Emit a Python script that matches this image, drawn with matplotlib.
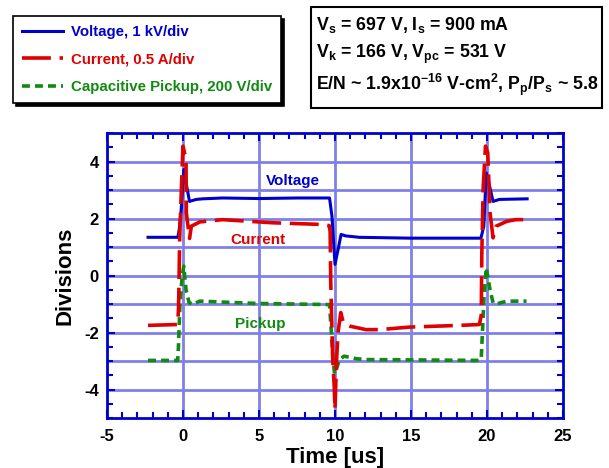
import matplotlib
matplotlib.use("Agg")
import matplotlib.pyplot as plt
from matplotlib.patches import Rectangle
from matplotlib.ticker import MultipleLocator

plt.rcParams['font.family'] = ['Liberation Sans', 'DejaVu Sans']
plt.rcParams['font.weight'] = 'bold'
plt.rcParams['axes.unicode_minus'] = False
plt.rcParams['mathtext.fontset'] = 'custom'
plt.rcParams['mathtext.rm'] = 'Liberation Sans:bold'
plt.rcParams['mathtext.bf'] = 'Liberation Sans:bold'
plt.rcParams['mathtext.it'] = 'Liberation Sans:bold'
plt.rcParams['mathtext.default'] = 'rm'

# ---- data ----
volt_t = [-2.3, -0.34, -0.25, -0.12, 0.05, 0.2, 0.43, 0.87, 1.3, 2.6, 5.0, 7.5, 9.64,
          9.8, 10.0, 10.2, 10.4, 10.7, 11.6, 15.0, 19.6, 19.79, 19.95, 20.1, 20.4,
          20.82, 22.64]
volt_v = [1.34, 1.34, 1.6, 2.3, 3.72, 3.25, 2.6, 2.67, 2.69, 2.72, 2.7, 2.72, 2.72,
          2.08, 0.39, 0.91, 1.44, 1.39, 1.34, 1.31, 1.31, 1.73, 3.6, 3.3, 2.6,
          2.67, 2.69]

curr_t = [-2.3, -0.35, -0.3, -0.28, -0.22, -0.1, 0.0, 0.2, 0.22, 0.43, 0.55, 1.1,
          2.6, 5.9, 9.2, 9.62, 9.68, 9.7, 9.72, 9.75, 9.85, 9.95, 10.0, 10.1, 10.2,
          10.38, 10.55, 11.0, 12.05, 12.9, 14.9, 18.2, 19.5, 19.62, 19.66, 19.75,
          19.9, 20.05, 20.2, 20.4, 20.6, 21.3, 21.9, 22.6]
curr_v = [-1.75, -1.72, -1.2, -0.8, 1.26, 3.13, 4.54, 4.07, 2.2, 1.3, 1.73, 1.88,
          1.96, 1.85, 1.79, 1.75, 1.55, 0.7, -0.25, -0.84, -2.95, -3.9, -4.7, -3.0,
          -2.0, -1.3, -1.66, -1.78, -1.9, -1.9, -1.81, -1.75, -1.72, -1.4, 0.8, 3.1,
          4.54, 4.3, 2.2, 1.32, 1.73, 1.9, 1.96, 1.96]

pick_t = [-2.3, -0.35, -0.3, -0.2, -0.05, 0.05, 0.2, 0.4, 0.65, 1.09, 4.8, 9.64,
          9.72, 9.86, 9.97, 10.08, 10.3, 10.6, 11.4, 12.05, 19.5, 19.62, 19.7, 19.8,
          19.95, 20.2, 20.4, 20.6, 21.3, 22.6]
pick_v = [-2.98, -2.98, -2.5, -1.0, 0.0, 0.33, -0.5, -0.95, -1.02, -0.9, -0.98, -1.02,
          -1.66, -2.83, -3.45, -3.3, -2.95, -2.83, -2.92, -2.95, -2.98, -2.9, -2.0,
          -0.8, 0.27, -0.5, -0.96, -1.0, -0.9, -0.9]

labels = ["Voltage, 1 kV/div", "Current, 0.5 A/div", "Capacitive Pickup, 200 V/div"]
info_lines = ["V$_{s}$ = 697 V, I$_{s}$ = 900 mA",
              "V$_{k}$ = 166 V, V$_{pc}$ = 531 V",
              "E/N ~ 1.9x10$^{-16}$ V-cm$^{2}$, P$_{p}$/P$_{s}$ ~ 5.8"]

BLUE = '#0000cc'
RED = '#e00000'
GREEN = '#108a10'
GRID = '#8080e8'

W, H = 609, 468
fig = plt.figure(figsize=(W / 100, H / 100), dpi=100)
ax = fig.add_axes([107 / W, 1 - 418 / H, (563 - 107) / W, (418 - 133) / H])

ax.set_xlim(-5, 25)
ax.set_ylim(-5, 5)

for y in range(-4, 5):
    ax.axhline(y, color=GRID, lw=2, zorder=1)
for x in [0, 5, 10, 15, 20]:
    ax.axvline(x, color=GRID, lw=2, zorder=1)

lv, = ax.plot(volt_t, volt_v, color=BLUE, lw=2.2, zorder=3, label=labels[0])
lc, = ax.plot(curr_t, curr_v, color=RED, lw=2.6, zorder=4, label=labels[1],
              dashes=(8, 2.4))
lp, = ax.plot(pick_t, pick_v, color=GREEN, lw=2.6, zorder=3, label=labels[2],
              dashes=(2.2, 1.4))

ax.text(7.2, 3.3, "Voltage", color=BLUE, fontsize=11, fontweight='bold',
        ha='center', va='center', zorder=5)
ax.text(4.9, 1.26, "Current", color=RED, fontsize=11, fontweight='bold',
        ha='center', va='center', zorder=5)
ax.text(5.1, -1.7, "Pickup", color=GREEN, fontsize=11, fontweight='bold',
        ha='center', va='center', zorder=5)

for s in ax.spines.values():
    s.set_color(BLUE)
    s.set_linewidth(2)
ax.xaxis.set_major_locator(MultipleLocator(5))
ax.xaxis.set_minor_locator(MultipleLocator(1))
ax.yaxis.set_major_locator(MultipleLocator(2))
ax.yaxis.set_minor_locator(MultipleLocator(0.5))
ax.tick_params(which='both', direction='in', color=BLUE, top=True, right=True,
               labelsize=12, width=1.5)
ax.tick_params(which='major', length=6)
ax.tick_params(axis='x', which='major', pad=8)
ax.tick_params(axis='y', which='major', pad=6)
ax.tick_params(which='minor', length=4)
for lab in ax.get_xticklabels() + ax.get_yticklabels():
    lab.set_fontweight('bold')

ax.set_xlabel("Time [us]", fontsize=16, fontweight='bold', labelpad=2)
ax.set_ylabel("Divisions", fontsize=16, fontweight='bold', labelpad=6)

# legend box
leg = ax.legend(handles=[lv, lc, lp], loc='upper left',
                bbox_to_anchor=(13 / W, 1 - 16 / H), bbox_transform=fig.transFigure,
                prop={'weight': 'bold', 'size': 10.8}, labelcolor='linecolor',
                handlelength=2.75, handletextpad=0.5, labelspacing=0.9,
                borderpad=0.6, borderaxespad=0, fancybox=False, framealpha=1,
                edgecolor='black', shadow={'color': 'black', 'alpha': 1})
leg.get_frame().set_linewidth(1.2)

# info box
x0, y0, x1, y1 = 311, 7, 602, 108
fig.patches.append(Rectangle((x0 / W, 1 - y1 / H), (x1 - x0) / W, (y1 - y0) / H,
                             transform=fig.transFigure, facecolor='white',
                             edgecolor='black', lw=1.5))
for txt, yy in zip(info_lines, [25, 54, 85]):
    fig.text(316 / W, 1 - yy / H, txt, fontsize=12.8, fontweight='bold',
             ha='left', va='center')

fig.savefig("out.png", dpi=100)
